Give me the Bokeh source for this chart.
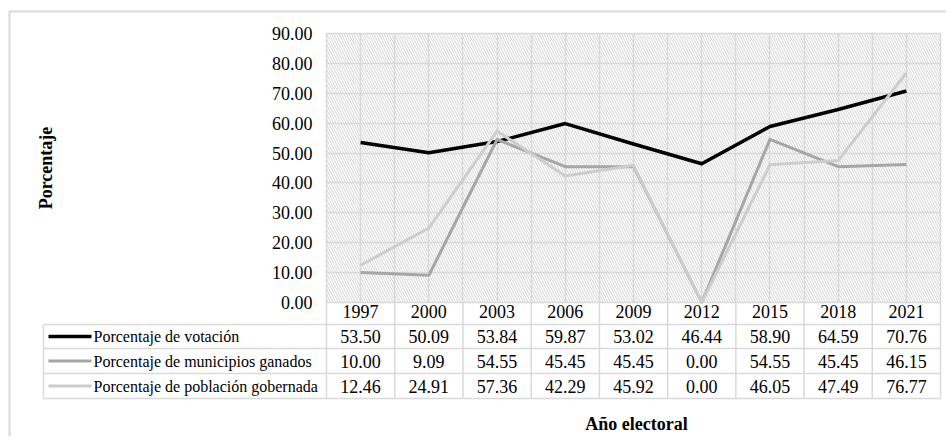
import numpy as np
from bokeh.plotting import figure
from bokeh.models import (FixedTicker, PrintfTickFormatter, Range1d, BoxAnnotation, Grid)
from bokeh.core.properties import value
from bokeh.embed import file_html
from bokeh.resources import INLINE

# ---------------- data ----------------
years = ["1997", "2000", "2003", "2006", "2009", "2012", "2015", "2018", "2021"]
votacion = [53.50, 50.09, 53.84, 59.87, 53.02, 46.44, 58.90, 64.59, 70.76]
municipios = [10.00, 9.09, 54.55, 45.45, 45.45, 0.00, 54.55, 45.45, 46.15]
poblacion = [12.46, 24.91, 57.36, 42.29, 45.92, 0.00, 46.05, 47.49, 76.77]
series_names = ["Porcentaje de votación",
                "Porcentaje de municipios ganados",
                "Porcentaje de población gobernada"]
series_colors = ["#000000", "#a6a6a6", "#cdcdcd"]
series_widths = [3.5, 3, 3]
y_ticks = [0, 10, 20, 30, 40, 50, 60, 70, 80, 90]
y_label = "Porcentaje"
x_label = "Año electoral"

SERIF = "Liberation Serif"
GRID = "#d9d9d9"
n = len(years)
xs = list(range(n))
series = [votacion, municipios, poblacion]
Y_MAX = 90

# ---------------- geometry (pixels) ----------------
W, H = 946, 436
FL, FR, FT, FB = 326, 940, 33, 302          # plot area
colw = (FR - FL) / n
ppu = (FB - FT) / Y_MAX


def px2x(px):
    return -0.5 + (px - FL) / colw


def py2y(py):
    return (FB - py) / ppu


p = figure(width=W, height=H,
           x_range=Range1d(px2x(0), px2x(W)), y_range=Range1d(py2y(H), py2y(0)),
           min_border=0, output_backend="svg", toolbar_location=None, tools="")
p.outline_line_color = None
p.background_fill_color = "white"
p.border_fill_color = "white"
for g in p.grid:
    g.visible = False

# y axis, fixed at the left edge of the plot area
ya = p.yaxis[0]
ya.fixed_location = -0.5
ya.bounds = (0, Y_MAX)
ya.ticker = FixedTicker(ticks=y_ticks)
ya.formatter = PrintfTickFormatter(format="%.2f")
ya.axis_line_color = None
ya.major_tick_line_color = None
ya.minor_tick_line_color = None
ya.major_tick_out = 0
ya.major_tick_in = 0
ya.major_label_text_font = SERIF
ya.major_label_text_font_size = "18px"
ya.major_label_text_color = "black"
ya.major_label_standoff = 14
ya.axis_label = y_label
ya.axis_label_text_font = SERIF
ya.axis_label_text_font_style = "bold"
ya.axis_label_text_font_size = "18px"
ya.axis_label_text_color = "black"
ya.axis_label_standoff = 213

# x axis = header row of the data table
xa = p.xaxis[0]
xa.fixed_location = 0
xlabel_center = px2x(645)
xa.bounds = (-0.5, 2 * xlabel_center + 0.5)
xa.ticker = FixedTicker(ticks=xs)
xa.major_label_overrides = {i: y for i, y in enumerate(years)}
xa.axis_line_color = None
xa.major_tick_line_color = None
xa.minor_tick_line_color = None
xa.major_tick_out = 0
xa.major_tick_in = 0
xa.major_label_text_font = SERIF
xa.major_label_text_font_size = "18px"
xa.major_label_text_color = "black"
xa.major_label_standoff = 2
xa.axis_label = x_label
xa.axis_label_text_font = SERIF
xa.axis_label_text_font_style = "bold"
xa.axis_label_text_font_size = "18px"
xa.axis_label_text_color = "black"
xa.axis_label_standoff = 93

# hatched plot background
p.add_layout(BoxAnnotation(left=-0.5, right=n - 0.5, bottom=0, top=Y_MAX,
                           fill_alpha=0, line_color=None, hatch_pattern="\\",
                           hatch_color="#d4d4d4", hatch_scale=5, hatch_weight=1, level="image"))

# grids limited to the plot area
vticks = [k * 0.5 - 0.5 for k in range(2 * n + 1)]
if "cross_bounds" in Grid.properties():
    p.add_layout(Grid(dimension=0, ticker=FixedTicker(ticks=vticks), cross_bounds=(0, Y_MAX),
                      grid_line_color=GRID, grid_line_width=1.5))
    p.add_layout(Grid(dimension=1, ticker=FixedTicker(ticks=y_ticks), cross_bounds=(-0.5, n - 0.5),
                      grid_line_color=GRID, grid_line_width=1.5))
else:
    p.segment(x0=vticks, y0=[0] * len(vticks), x1=vticks, y1=[Y_MAX] * len(vticks),
              line_color=GRID, line_width=1.5, level="underlay")
    p.segment(x0=[-0.5] * len(y_ticks), y0=y_ticks, x1=[n - 0.5] * len(y_ticks), y1=y_ticks,
              line_color=GRID, line_width=1.5, level="underlay")

# series lines
for vals, color, lw in zip(series, series_colors, series_widths):
    p.line(xs, vals, line_color=color, line_width=lw, line_join="round")

# ---------------- data table ----------------
row_px = [324, 348, 373, 398]
row_centers = [py2y((a + b) / 2) for a, b in zip([FB] + row_px[:-1], row_px)]
row_centers = row_centers[1:]
left_edge = px2x(43)

hy = [py2y(v) for v in row_px]
p.segment(x0=[left_edge] * len(hy), y0=hy, x1=[n - 0.5] * len(hy), y1=hy,
          line_color=GRID, line_width=1.5)
vx = [left_edge] + [k - 0.5 for k in range(n + 1)]
vy0 = [py2y(row_px[0])] + [0] * (n + 1)
vy1 = [py2y(row_px[-1])] * (n + 2)
p.segment(x0=vx, y0=vy0, x1=vx, y1=vy1, line_color=GRID, line_width=1.5)

for r, (vals, name, color, lw) in enumerate(zip(series, series_names, series_colors, series_widths)):
    yc = row_centers[r]
    p.text(x=xs, y=[yc] * n, text=["%.2f" % v for v in vals], text_font=value(SERIF),
           text_font_size="18px", text_align="center", text_baseline="middle", text_color="black")
    p.segment(x0=[px2x(48)], y0=[yc], x1=[px2x(91)], y1=[yc], line_color=color, line_width=lw)
    p.text(x=[px2x(93)], y=[yc], text=[name], text_font=value(SERIF),
           text_font_size="16px", text_align="left", text_baseline="middle", text_color="black")

# outer chart border
p.line(x=[px2x(9), px2x(9), px2x(W)], y=[py2y(H + 10), py2y(11), py2y(11)],
       line_color=GRID, line_width=2)

open("out.html", "w").write(file_html(p, INLINE))
